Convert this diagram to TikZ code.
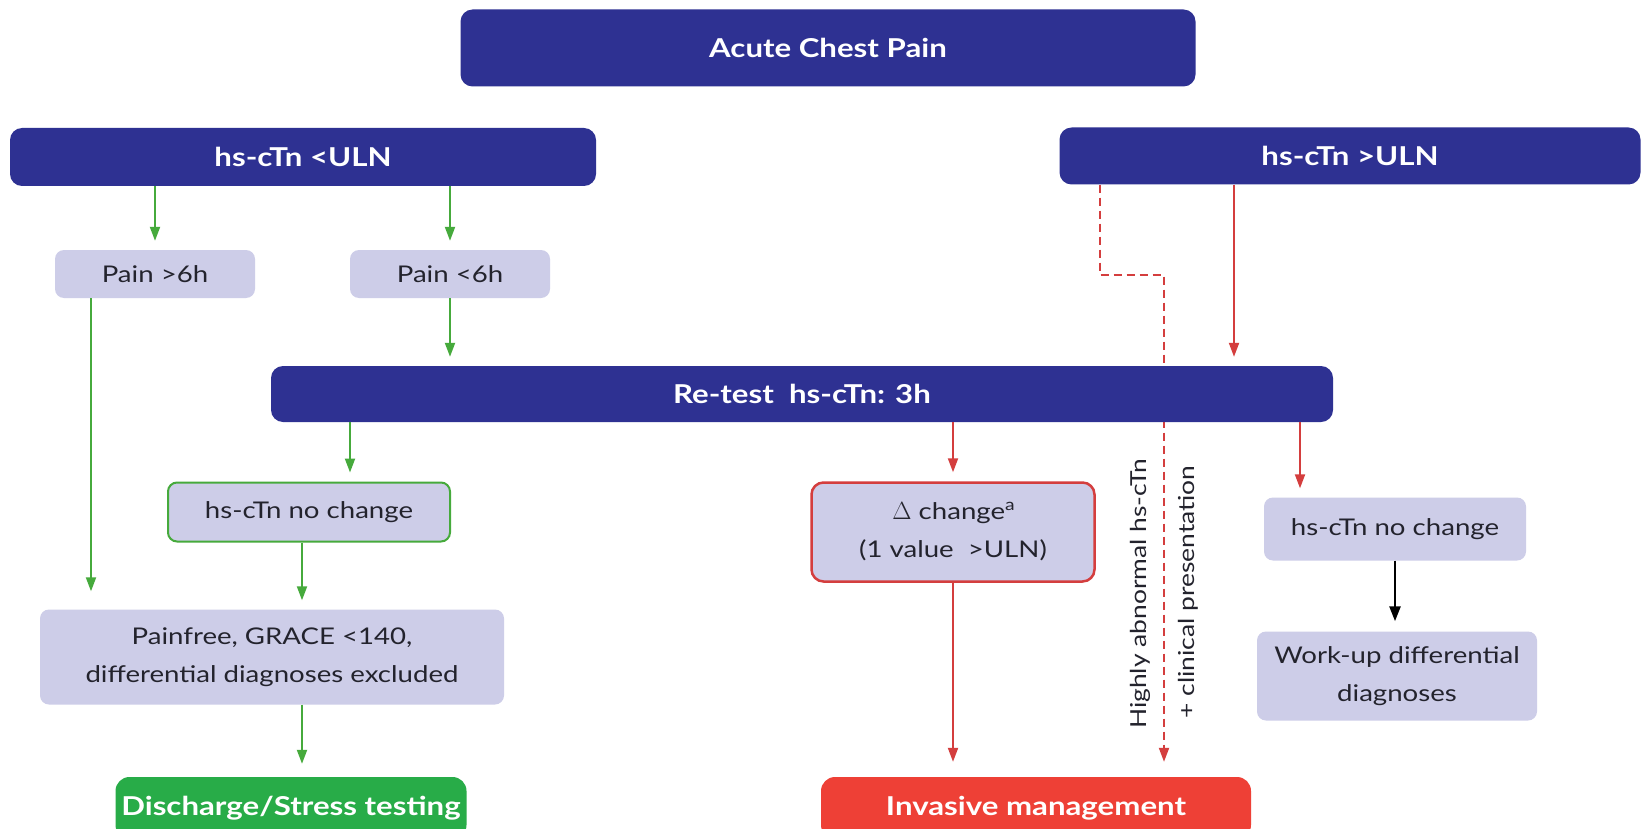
\documentclass[tikz,border=0pt]{standalone}
\usepackage{fontspec}
\setmainfont{Lato}[FakeStretch=1.2]
\usetikzlibrary{arrows.meta,backgrounds}
\definecolor{navy}{RGB}{46,49,146}
\definecolor{lav}{RGB}{205,205,232}
\definecolor{txt}{RGB}{35,35,45}
\definecolor{gfill}{RGB}{40,172,72}
\definecolor{garrc}{RGB}{70,170,60}
\definecolor{rfill}{RGB}{238,64,54}
\definecolor{rarrc}{RGB}{212,62,62}
\begin{document}
\begin{tikzpicture}[x=1pt,y=-1pt,
  navybox/.style={fill=navy,text=white,font=\fontsize{26}{30}\selectfont\bfseries,rounded corners=12pt,inner sep=0pt},
  lavbox/.style={fill=lav,text=txt,font=\fontsize{23}{38}\selectfont,rounded corners=9pt,align=center,inner sep=0pt},
  endbox/.style={text=white,font=\fontsize{26}{30}\selectfont\bfseries,rounded corners=14pt,inner sep=0pt},
  garr/.style={draw=garrc,line width=2pt,-{Triangle[length=14pt,width=10pt]},shorten >=9pt},
  rarr/.style={draw=rarrc,line width=2pt,-{Triangle[length=14pt,width=10pt]},shorten >=9pt},
  rdash/.style={draw=rarrc,line width=2pt,dash pattern=on 8pt off 5pt,-{Triangle[length=14pt,width=10pt]},shorten >=15pt},
  barr/.style={draw=black,line width=2.5pt,-{Triangle[length=15pt,width=11pt]},shorten >=10pt},
  vtext/.style={text=txt,font=\fontsize{22}{26}\selectfont,rotate=90,inner sep=0pt}
]
\useasboundingbox (0,0) rectangle (1648,829);
\clip (0,0) rectangle (1648,829);

% nodes
\node[navybox,minimum width=735pt,minimum height=77pt] (acp) at (828,48) {Acute Chest Pain};
\node[navybox,minimum width=586pt,minimum height=58pt] (low) at (303,157) {hs-cTn <ULN};
\node[navybox,minimum width=581pt,minimum height=57pt] (high) at (1350,156) {hs-cTn >ULN};
\node[lavbox,minimum width=200pt,minimum height=48pt] (p6a) at (155,274) {Pain >6h};
\node[lavbox,minimum width=200pt,minimum height=48pt] (p6b) at (450,274) {Pain <6h};
\node[navybox,minimum width=1062pt,minimum height=56pt] (retest) at (802,394) {Re-test\ \ hs-cTn: 3h};
\node[lavbox,draw=garrc,line width=2pt,minimum width=282pt,minimum height=59pt] (nc1) at (309,512) {hs-cTn no change};
\node[lavbox,minimum width=464pt,minimum height=95pt] (pf) at (272,657) {Painfree, GRACE <140,\\differential diagnoses excluded};
\node[endbox,fill=gfill,minimum width=351pt,minimum height=62pt] (dis) at (291,808) {Discharge/Stress testing};
\node[lavbox,draw=rarrc,line width=2.5pt,rounded corners=12pt,minimum width=283pt,minimum height=99pt] (dc) at (953,532) {$\Delta$ change$^{\mathrm{a}}$\\(1 value\ \ >ULN)};
\node[endbox,fill=rfill,minimum width=430pt,minimum height=62pt] (inv) at (1036,808) {Invasive management};
\node[lavbox,minimum width=262pt,minimum height=63pt] (nc2) at (1395,529) {hs-cTn no change};
\node[lavbox,minimum width=280pt,minimum height=89pt] (wu) at (1397,676) {Work-up differential\\diagnoses};
\node[vtext] (t1) at (1140,594) {Highly abnormal hs-cTn};
\node[vtext] (t2) at (1188,592) {+ clinical presentation};

% helper coordinates
\coordinate (x91) at (91,0);
\coordinate (x350) at (350,0);
\coordinate (x302) at (302,0);
\coordinate (x1234) at (1234,0);
\coordinate (x1300) at (1300,0);
\coordinate (d1) at (1100,275);
\coordinate (d2) at (1164,275);

% white page and dashed path behind the re-test box
\begin{pgfonlayer}{background}
\fill[white] (0,0) rectangle (1648,829);
\draw[rdash] (high.south -| d1) -- (d1) -- (d2) -- (inv.north -| d2);
\end{pgfonlayer}

% green connectors
\draw[garr] (low.south -| p6a) -- (p6a.north);
\draw[garr] (low.south -| p6b) -- (p6b.north);
\draw[garr] (p6b.south) -- (retest.north -| p6b);
\draw[garr,shorten >=18pt] (p6a.south -| x91) -- (pf.north -| x91);
\draw[garr] (retest.south -| x350) -- (nc1.north -| x350);
\draw[garr] (nc1.south -| x302) -- (pf.north -| x302);
\draw[garr,shorten >=13pt] (pf.south -| x302) -- (dis.north -| x302);

% red connectors
\draw[rarr] (high.south -| x1234) -- (retest.north -| x1234);
\draw[rarr] (retest.south -| dc) -- (dc.north);
\draw[rarr,shorten >=15pt] (dc.south) -- (inv.north -| dc.south);
\draw[rarr] (retest.south -| x1300) -- (nc2.north -| x1300);

% black connector
\draw[barr] (nc2.south) -- (wu.north -| nc2.south);
\end{tikzpicture}
\end{document}
